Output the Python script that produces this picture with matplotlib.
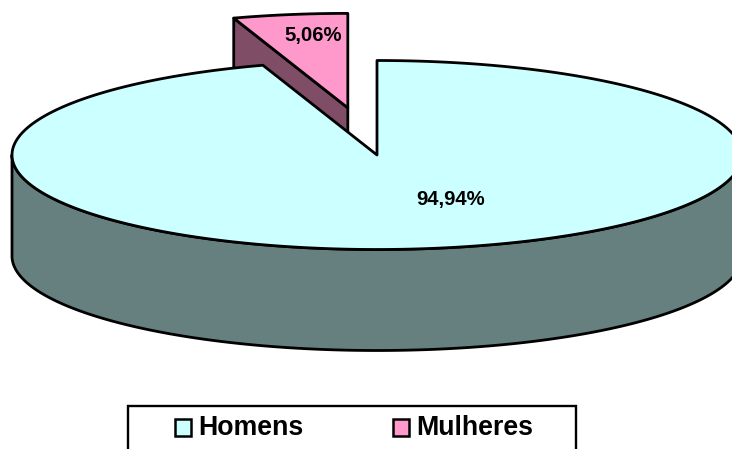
import numpy as np
import matplotlib
matplotlib.use("Agg")
import matplotlib.pyplot as plt
from matplotlib.patches import Polygon, Rectangle

labels = ["Homens", "Mulheres"]
shares = [94.94, 5.06]
pct_labels = ["94,94%", "5,06%"]

top_colors = ["#CCFFFF", "#FF99CC"]
side_colors = ["#668080", "#804D66"]

plt.rcParams["font.family"] = ["Liberation Sans", "DejaVu Sans"]

# pie geometry in pixels
cx, cy = 377, 155
rx, ry = 365, 94.5
depth = 101
explode = 0.505
lw = 2.0


def arc(a0, a1, ox=0, oy=0, n=300):
    t = np.radians(np.linspace(a0, a1, n))
    return np.column_stack([cx + ox + rx * np.cos(t), cy + oy - ry * np.sin(t)])


fig = plt.figure(figsize=(7.32, 4.49), dpi=100)
ax = fig.add_axes([0, 0, 1, 1])
ax.set_xlim(0, 732)
ax.set_ylim(449, 0)
ax.axis("off")

sweep = [s / sum(shares) * 360 for s in shares]

# slice starts at 12 o'clock and runs clockwise
main_start = 90
main_end = 90 - sweep[0]
small_start = main_end
small_end = main_end - sweep[1]

# exploded slice first, the main one hides the lower part of it
mid = np.radians((small_start + small_end) / 2)
ox = explode * rx * np.cos(mid)
oy = -explode * ry * np.sin(mid)
apex = np.array([cx + ox, cy + oy])
outer = arc(small_start, small_end, ox, oy)
corner = outer[0]
wall = np.array([corner, apex, apex + [0, depth], corner + [0, depth]])
ax.add_patch(Polygon(wall, fc=side_colors[1], ec="black", lw=lw, joinstyle="round"))
ax.add_patch(Polygon(np.vstack([apex, outer]), fc=top_colors[1], ec="black", lw=lw, joinstyle="round"))

# main slice
front = arc(-180, 0)
body = np.vstack([front, (front + [0, depth])[::-1]])
ax.add_patch(Polygon(body, fc=side_colors[0], ec="black", lw=lw, joinstyle="round"))
top = np.vstack([[cx, cy], arc(main_start, main_end)])
ax.add_patch(Polygon(top, fc=top_colors[0], ec="black", lw=lw, joinstyle="round"))

ax.text(451, 199, pct_labels[0], fontsize=14.6, fontweight="bold", ha="center", va="center")
ax.text(313, 36, pct_labels[1], fontsize=14.6, fontweight="bold", ha="center", va="center")

# legend box runs off the bottom of the picture
ax.add_patch(Rectangle((127.5, 405.5), 448.5, 60, fc="white", ec="black", lw=1.7))
for label, color, x in zip(labels, top_colors, [174.5, 392.5]):
    ax.add_patch(Rectangle((x, 418.5), 16.5, 17, fc=color, ec="black", lw=1.8))
    ax.text(x + 23.5, 428, label, fontsize=19.3, fontweight="bold", ha="left", va="center")

fig.savefig("out.png", dpi=100)
